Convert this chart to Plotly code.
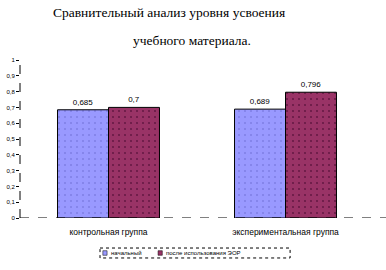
import plotly.graph_objects as go

categories = ["контрольная группа", "экспериментальная группа"]
series_names = ["начальный", "после использования ЭОР"]
series_colors = ["#9999FF", "#993366"]
initial = [0.685, 0.689]
after = [0.7, 0.796]
labels_initial = ["0,685", "0,689"]
labels_after = ["0,7", "0,796"]
y_ticks = [0, 0.1, 0.2, 0.3, 0.4, 0.5, 0.6, 0.7, 0.8, 0.9, 1]

fig = go.Figure()
fig.add_trace(go.Bar(
    x=categories, y=initial, name=series_names[0],
    text=labels_initial, textposition="outside",
    textfont=dict(size=8, color="black", family="Liberation Sans"),
    marker=dict(color=series_colors[0], line=dict(color="black", width=1),
                pattern=dict(shape=".", fgcolor="#6666cc", size=6, solidity=0.1)),
    cliponaxis=False,
))
fig.add_trace(go.Bar(
    x=categories, y=after, name=series_names[1],
    text=labels_after, textposition="outside",
    textfont=dict(size=8, color="black", family="Liberation Sans"),
    marker=dict(color=series_colors[1], line=dict(color="black", width=1),
                pattern=dict(shape=".", fgcolor="#330022", size=6, solidity=0.1)),
    cliponaxis=False,
))

fig.update_layout(
    width=386, height=270,
    margin=dict(l=20, r=12, t=60, b=52, autoexpand=False),
    paper_bgcolor="white", plot_bgcolor="white",
    barmode="group", bargap=0.424, bargroupgap=0,
    separators=",.",
    showlegend=False,
    font=dict(family="Liberation Sans", size=7, color="black"),
)
fig.update_xaxes(showline=False, showgrid=False, ticks="", automargin=False,
                 tickfont=dict(size=8.5), ticklabelstandoff=7)
fig.update_yaxes(range=[0, 1], tickvals=y_ticks, showgrid=False, zeroline=False,
                 showline=False, ticks="outside", ticklen=3, tickcolor="black",
                 automargin=False, tickfont=dict(size=6), tickformat=",.1~f")

# dashed axis lines
fig.add_shape(type="line", xref="paper", yref="y", x0=0, x1=1.04, y0=0, y1=0,
              line=dict(color="black", width=1, dash="dash"))
fig.add_shape(type="line", xref="paper", yref="y", x0=0, x1=0, y0=0, y1=1,
              line=dict(color="black", width=1, dash="dash"))

# compact legend box
fig.add_shape(type="rect", xref="paper", yref="paper", x0=0.226, x1=0.763, y0=-0.19, y1=-0.253,
              line=dict(color="black", width=1, dash="dot"), fillcolor="white")
legend_pos = [(0.234, 0.252), (0.390, 0.408)]
for (sx, tx), name, col in zip(legend_pos, series_names, series_colors):
    fig.add_shape(type="rect", xref="paper", yref="paper", x0=sx, x1=sx + 0.012,
                  y0=-0.207, y1=-0.236, line=dict(color="black", width=0.5), fillcolor=col)
    fig.add_annotation(text=name, xref="paper", yref="paper", x=tx, y=-0.2215,
                       xanchor="left", yanchor="middle", showarrow=False,
                       font=dict(size=6, family="Liberation Sans", color="black"))

fig.add_annotation(text="Сравнительный анализ уровня усвоения", xref="paper", yref="paper",
                   x=0.42, y=1.0, yshift=48, yanchor="middle", showarrow=False, xanchor="center",
                   font=dict(family="Liberation Serif", size=13.5, color="black"))
fig.add_annotation(text="учебного материала.", xref="paper", yref="paper",
                   x=0.486, y=1.0, yshift=20, yanchor="middle", showarrow=False, xanchor="center",
                   font=dict(family="Liberation Serif", size=13.5, color="black"))

fig.write_html("out.html")
